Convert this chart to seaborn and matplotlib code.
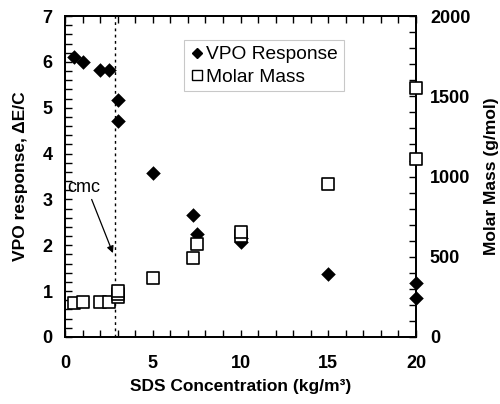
import matplotlib
matplotlib.use("Agg")
import matplotlib.pyplot as plt
import seaborn as sns
import pandas as pd
from matplotlib.lines import Line2D
from matplotlib.ticker import MultipleLocator

sns.set_style("white")
plt.rcParams['font.family'] = ['Liberation Sans', 'DejaVu Sans']
plt.rcParams.update({"text.color": "black", "axes.labelcolor": "black",
                     "xtick.color": "black", "ytick.color": "black",
                     "axes.edgecolor": "black"})

# VPO response (left axis)
vpo_x = [0.5, 1.0, 2.0, 2.5, 3.0, 3.0, 5.0, 7.3, 7.5, 10.0, 10.0, 15.0, 20.0, 20.0]
vpo_y = [6.11, 5.99, 5.82, 5.82, 5.18, 4.71, 3.57, 2.65, 2.25, 2.15, 2.08, 1.37, 1.18, 0.85]

# Molar mass (right axis)
mm_x = [0.5, 1.0, 2.0, 2.5, 3.0, 3.0, 3.0, 5.0, 7.3, 7.5, 10.0, 10.0, 15.0, 20.0, 20.0]
mm_y = [214, 220, 220, 220, 247, 266, 289, 366, 490, 580, 630, 652, 951, 1107, 1552]

cmc = 2.85

vpo = pd.DataFrame({"conc": vpo_x, "resp": vpo_y})
mm = pd.DataFrame({"conc": mm_x, "mass": mm_y})

fig = plt.figure(figsize=(5.0, 4.04), dpi=100)
ax = fig.add_axes([0.13, 0.166, 0.702, 0.794])
ax2 = ax.twinx()

sns.scatterplot(data=vpo, x="conc", y="resp", ax=ax, marker="D", s=55,
                color="black", edgecolor="black", linewidth=0, zorder=3,
                clip_on=False)
sns.scatterplot(data=mm, x="conc", y="mass", ax=ax2, marker="s", s=65,
                facecolor="white", edgecolor="black", linewidth=1.2, zorder=3,
                clip_on=False)

ax.axvline(cmc, color="black", linestyle=(0, (2, 2.5)), linewidth=1.0, zorder=1)

ax.set_xlim(0, 20)
ax.set_ylim(0, 7)
ax2.set_ylim(0, 2000)

ax.xaxis.set_major_locator(MultipleLocator(5))
ax.xaxis.set_minor_locator(MultipleLocator(1))
ax.yaxis.set_major_locator(MultipleLocator(1))
ax.yaxis.set_minor_locator(MultipleLocator(0.2))
ax2.yaxis.set_major_locator(MultipleLocator(500))
ax2.yaxis.set_minor_locator(MultipleLocator(100))

ax.tick_params(axis="x", which="both", direction="in", top=True, bottom=True,
               length=5, width=1.0, pad=13, colors="black")
ax.tick_params(axis="y", which="both", direction="in", left=True, right=False,
               length=5, width=1.0, pad=9, colors="black")
ax2.tick_params(axis="y", which="both", direction="in", right=True, length=5,
                width=1.0, pad=10, colors="black")

for a in (ax, ax2):
    for sp in a.spines.values():
        sp.set_linewidth(1.3)
        sp.set_color("black")

for lab in ax.get_xticklabels() + ax.get_yticklabels() + ax2.get_yticklabels():
    lab.set_fontsize(13)
    lab.set_fontweight("bold")

ax.set_xlabel("SDS Concentration (kg/m³)", fontsize=12.5, fontweight="bold",
              labelpad=5, color="black")
ax.set_ylabel("VPO response, ΔE/C", fontsize=12.5, fontweight="bold",
              labelpad=10, color="black")
ax2.set_ylabel("Molar Mass (g/mol)", fontsize=12.5, fontweight="bold",
               labelpad=10, color="black")

ax.text(0.15, 3.27, "cmc", fontsize=13, va="center", ha="left", color="black")
ax.annotate("", xy=(2.73, 1.83), xytext=(1.52, 3.0),
            arrowprops=dict(arrowstyle="-|>", color="black", lw=0.9,
                            mutation_scale=10, shrinkA=0, shrinkB=0))

handles = [
    Line2D([], [], marker="D", color="black", linestyle="none", markersize=5),
    Line2D([], [], marker="s", markerfacecolor="white", markeredgecolor="black",
           linestyle="none", markersize=7, markeredgewidth=1.0),
]
leg = ax2.legend(handles, ["VPO Response", "Molar Mass"], loc="upper left",
                 bbox_to_anchor=(0.34, 0.925), fontsize=13.8, frameon=True,
                 fancybox=False, handletextpad=0.15, handlelength=0.7,
                 borderpad=0.3, labelspacing=0.25, borderaxespad=0,
                 labelcolor="black")
leg.get_frame().set_edgecolor("#bbbbbb")
leg.get_frame().set_linewidth(0.8)

fig.savefig("out.png", dpi=100)
